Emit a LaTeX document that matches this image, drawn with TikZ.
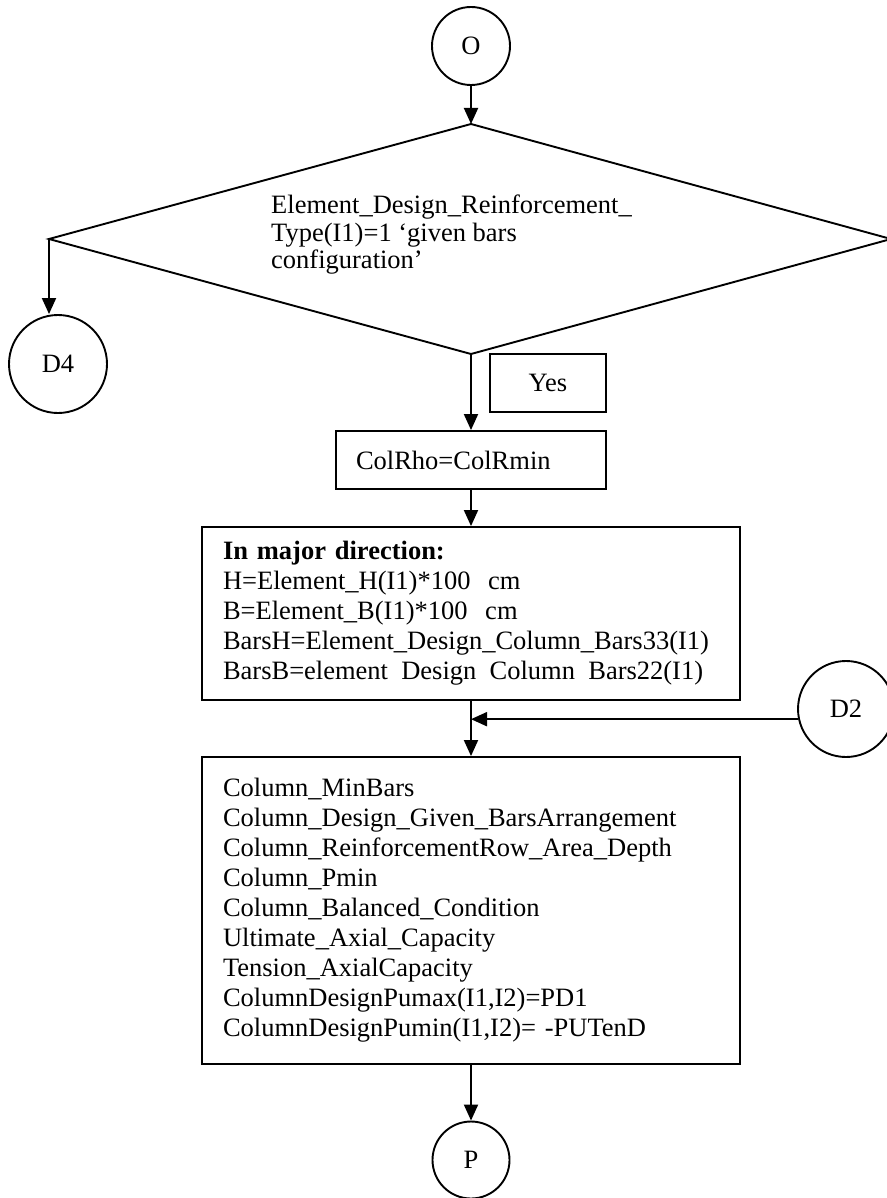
\documentclass[tikz,border=0pt]{standalone}
\usepackage{fontspec}
\setmainfont{Liberation Serif}
\usetikzlibrary{arrows.meta,calc}
\begin{document}
\begin{tikzpicture}[x=1pt,y=-1pt,
  every node/.style={font=\fontsize{26.5}{30}\selectfont},
  conn/.style={draw, circle, line width=1.9pt, inner sep=0pt},
  proc/.style={draw, rectangle, line width=1.9pt, align=left, inner ysep=0pt},
  lbl/.style={draw, rectangle, line width=1.9pt, inner sep=0pt},
  arr/.style={line width=1.9pt, -{Triangle[length=16pt,width=14pt]}},
  edgeline/.style={line width=1.9pt, line join=miter},
]
\useasboundingbox (0,0) rectangle (886,1198);

% connectors (circles)
\node[conn, minimum size=78pt] (O) at (471,46) {O};
\node[conn, minimum size=98pt] (D4) at (58,364) {D4};
\node[conn, minimum size=96pt] (D2) at (846,709) {D2};
\node[conn, minimum size=77pt] (P) at (471,1160) {P};

% decision diamond
\coordinate (dT) at (471,124);
\coordinate (dL) at (49,239);
\coordinate (dR) at (891,239);
\coordinate (dB) at (471,354);
\draw[edgeline] (dT) -- (dR) -- (dB) -- (dL) -- cycle;
\node[anchor=north west, inner sep=0pt, align=left,
      font=\fontsize{26.5}{27.5}\selectfont] (dtext) at (271,195)
  {Element\_Design\_Reinforcement\_\\Type(I1)=1 ‘given bars\\configuration’};

% Yes label
\node[lbl, minimum width=116pt, minimum height=58pt] (yes) at (548,383) {Yes};

% process boxes
\node[proc, text width=230pt, inner xsep=20pt, minimum height=58pt] (colrho) at (471,460) {ColRho=ColRmin};

\node[proc, text width=496pt, inner xsep=21pt, minimum height=173pt] (box1) at (471,613.5)
  {\textbf{In major direction:}\\
   H=Element\_H(I1)*100\ \ cm\\
   B=Element\_B(I1)*100\ \ cm\\
   BarsH=Element\_Design\_Column\_Bars33(I1)\\
   BarsB=element\phantom{\_}Design\phantom{\_}Column\phantom{\_}Bars22(I1)};

\node[proc, text width=496pt, inner xsep=21pt, minimum height=307pt] (box2) at (471,910.5)
  {Column\_MinBars\\
   Column\_Design\_Given\_BarsArrangement\\
   Column\_ReinforcementRow\_Area\_Depth\\
   Column\_Pmin\\
   Column\_Balanced\_Condition\\
   Ultimate\_Axial\_Capacity\\
   Tension\_AxialCapacity\\
   ColumnDesignPumax(I1,I2)=PD1\\
   ColumnDesignPumin(I1,I2)= -PUTenD};

% arrows
\draw[arr] (O) -- (dT);
\draw[arr] (dL) -- (dL |- D4.north);
\draw[arr] (dB) -- (dB |- colrho.north);
\draw[arr] (colrho.south) -- (colrho.south |- box1.north);
\draw[arr] (box1.south) -- (box1.south |- box2.north);
\draw[arr] (D2.192) -- (D2.192 -| box1.south);
\draw[arr] (box2.south) -- (box2.south |- P.north);
\end{tikzpicture}
\end{document}
